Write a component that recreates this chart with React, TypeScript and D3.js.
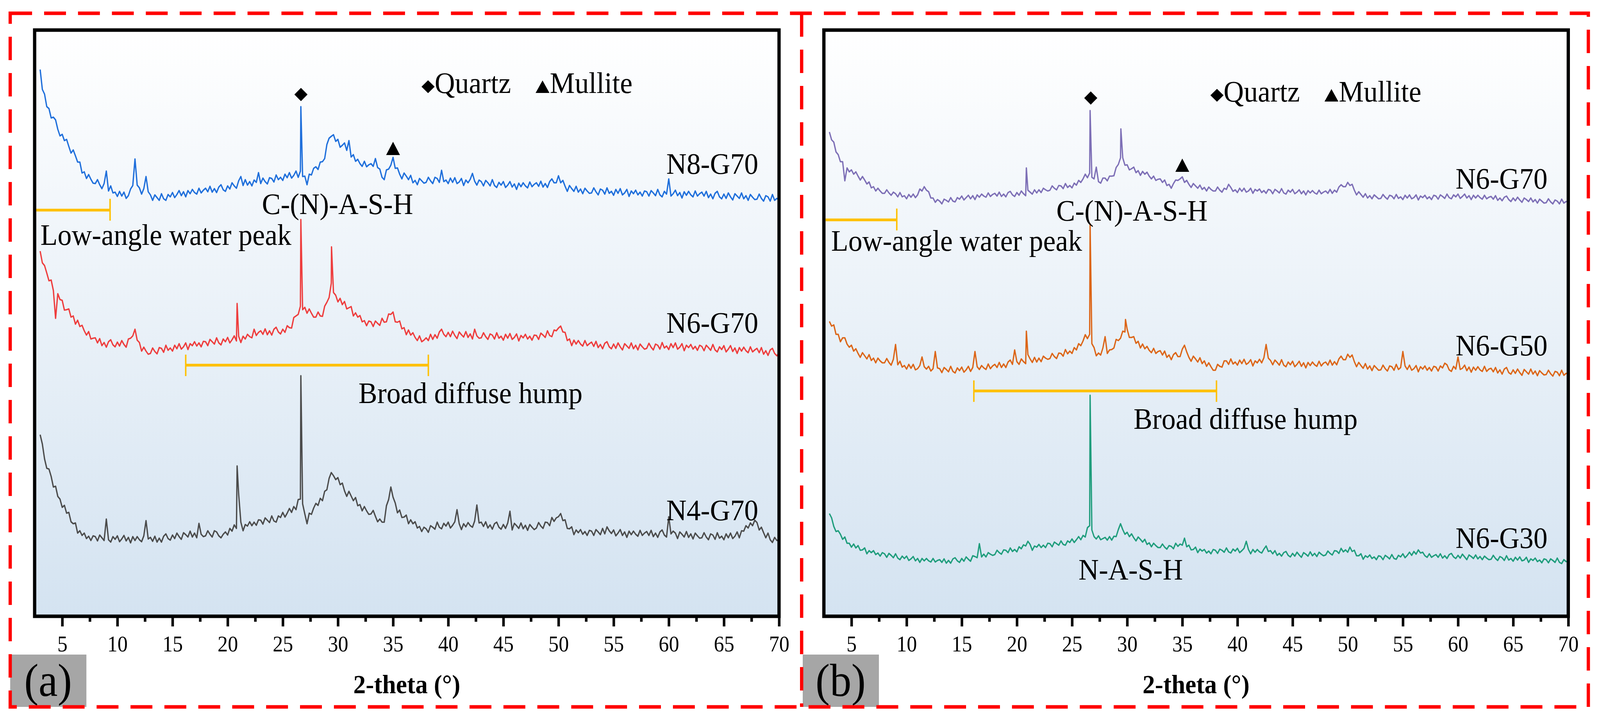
import { useEffect, useRef } from "react";
import * as d3 from "d3";

// ---- data -----------------------------------------------------------------

// 2-theta grid of the digitised scans (degrees): 3.0, 3.2, ... 70.0
const THETA_START = 3;
const THETA_STEP = 0.2;
const THETA_DOMAIN: [number, number] = [2.5, 70];
const MAJOR_TICKS = [5, 10, 15, 20, 25, 30, 35, 40, 45, 50, 55, 60, 65, 70];
const MINOR_TICKS = [7.5, 12.5, 17.5, 22.5, 27.5, 32.5, 37.5, 42.5, 47.5, 52.5, 57.5, 62.5, 67.5];

// intensity (a.u.) above each trace's own baseline, one value per grid step (5° per row)
const N8_G70 = [
  332, 281, 269, 237, 232, 208, 210, 203, 179, 162, 166, 150, 153, 135, 118, 126, 111, 95, 95, 67, 70, 53, 63, 51, 41,
  40, 50, 37, 27, 40, 72, 21, 34, 16, 18, 7, 20, 8, 18, 2, 9, 26, 35, 103, 36, 29, 13, 27, 58, 19,
  11, -3, 11, 4, -3, 14, 1, -3, 12, 6, 17, 4, 12, 22, 9, 19, 6, 22, 14, 25, 17, 13, 28, 16, 23,
  28, 19, 33, 18, 27, 17, 31, 37, 24, 20, 34, 26, 42, 34, 28, 47, 58, 35, 50, 36, 45, 34, 49, 43, 68,
  40, 54, 45, 39, 55, 53, 44, 62, 50, 56, 48, 64, 55, 68, 54, 61, 72, 56, 72, 58, 59, 37, 64, 62, 79,
  83, 76, 95, 96, 104, 140, 156, 161, 165, 148, 153, 133, 138, 144, 125, 150, 108, 114, 97, 102, 91, 84, 97, 83, 88,
  91, 84, 104, 81, 77, 56, 50, 75, 77, 87, 107, 79, 80, 64, 52, 67, 59, 50, 61, 42, 48, 37, 53, 47, 41,
  43, 56, 47, 40, 56, 53, 43, 74, 45, 49, 40, 54, 43, 55, 40, 44, 53, 35, 49, 42, 51, 66, 46, 36, 49,
  45, 34, 48, 42, 34, 50, 35, 30, 43, 36, 45, 30, 36, 45, 31, 39, 25, 41, 32, 42, 34, 29, 44, 32, 38,
  42, 33, 46, 31, 40, 30, 45, 52, 42, 42, 60, 42, 48, 33, 20, 35, 27, 20, 33, 18, 26, 14, 28, 21, 15,
  16, 29, 19, 11, 26, 23, 13, 29, 15, 20, 10, 25, 15, 27, 11, 16, 25, 7, 21, 14, 23, 11, 18, 8, 21,
  19, 8, 22, 16, 9, 25, 11, 6, 20, 13, 52, 8, 14, 23, 9, 17, 3, 19, 10, 20, 11, 6, 21, 8, 14,
  18, 8, 20, 4, 13, 1, 15, 20, 6, 1, 13, 2, 16, 6, -2, 14, 8, 2, 16, 1, 9, -3, 12, 5, -1,
  0, 13, 2, -5, 9, 6, -5, 12, -3, 2, -2,
];

const N6_G70_A = [
  262, 232, 225, 206, 186, 188, 161, 90, 153, 138, 136, 111, 112, 114, 93, 96, 75, 85, 69, 72, 58, 47, 56, 37, 39,
  40, 27, 38, 20, 28, 16, 30, 35, 22, 17, 29, 19, 33, 23, 16, 37, 39, 45, 62, 34, 28, 6, 16, 6, -2,
  0, 14, 5, -1, 15, 13, 3, 21, 8, 14, 6, 21, 12, 25, 11, 17, 27, 10, 25, 20, 30, 19, 27, 17, 31,
  30, 20, 36, 30, 24, 40, 27, 22, 37, 30, 41, 27, 35, 45, 32, 44, 28, 44, 37, 49, 43, 40, 62, 46, 54,
  58, 49, 63, 48, 58, 47, 62, 67, 55, 50, 62, 54, 71, 66, 65, 92, 96, 100, 121, 112, 118, 103, 114, 103, 93,
  93, 106, 96, 95, 121, 131, 143, 180, 156, 149, 132, 141, 125, 133, 114, 117, 120, 96, 104, 93, 97, 81, 84, 71, 83,
  81, 69, 83, 77, 72, 90, 80, 81, 101, 100, 106, 81, 80, 83, 63, 66, 48, 60, 47, 53, 41, 33, 45, 30, 34,
  40, 33, 49, 36, 48, 39, 55, 62, 49, 43, 54, 43, 57, 46, 38, 55, 48, 42, 56, 41, 50, 37, 62, 45, 39,
  40, 53, 43, 36, 50, 47, 37, 53, 39, 44, 34, 49, 39, 51, 36, 41, 50, 32, 46, 40, 49, 37, 44, 34, 47,
  46, 36, 52, 47, 41, 58, 46, 43, 60, 58, 65, 70, 55, 54, 33, 37, 20, 34, 24, 33, 24, 19, 33, 20, 25,
  29, 18, 31, 15, 23, 12, 26, 30, 17, 12, 24, 13, 27, 17, 9, 25, 19, 13, 27, 12, 21, 9, 24, 17, 11,
  13, 26, 16, 9, 24, 21, 11, 28, 14, 19, 10, 25, 15, 27, 11, 16, 25, 7, 21, 15, 23, 11, 18, 8, 21,
  18, 7, 21, 15, 8, 23, 9, 4, 17, 10, 20, 4, 11, 20, 5, 14, 0, 15, 6, 16, 7, 2, 17, 4, 9,
  13, 2, 15, -2, 7, -5, 9, 13, 0, -6, 2,
];

const N4_G70 = [
  272, 248, 210, 186, 184, 165, 138, 140, 114, 107, 86, 91, 71, 73, 49, 44, 46, 20, 26, 14, 20, 6, 12, 1, 13,
  11, 0, 15, 8, 1, 56, 3, -3, 11, 4, 13, -2, 5, 14, 0, 9, -5, 11, 1, 11, 3, -2, 13, 52, 5,
  9, -1, 12, -3, 7, -3, 12, 18, 6, 2, 15, 6, 20, 11, 4, 21, 16, 10, 25, 10, 20, 8, 45, 17, 11,
  13, 26, 17, 10, 26, 23, 13, 8, 17, 23, 15, 32, 25, 41, 32, 120, 48, 26, 42, 38, 49, 39, 48, 40, 54,
  53, 43, 59, 53, 47, 64, 51, 48, 64, 60, 73, 61, 71, 83, 73, 88, 80, 106, 107, 95, 69, 44, 71, 68, 84,
  96, 91, 109, 103, 127, 131, 160, 175, 167, 157, 162, 144, 148, 128, 114, 127, 115, 103, 111, 90, 93, 77, 88, 77, 68,
  69, 78, 63, 49, 56, 48, 48, 90, 106, 138, 112, 97, 72, 79, 60, 61, 66, 44, 54, 44, 49, 33, 37, 24, 35,
  31, 22, 39, 35, 30, 48, 35, 31, 45, 38, 48, 33, 40, 49, 80, 44, 29, 44, 36, 47, 39, 35, 51, 92, 46,
  48, 37, 49, 33, 41, 30, 44, 48, 35, 30, 42, 32, 46, 76, 28, 45, 39, 32, 46, 31, 40, 27, 42, 35, 29,
  33, 47, 38, 32, 48, 47, 39, 60, 50, 59, 62, 70, 52, 54, 32, 31, 36, 16, 28, 21, 29, 17, 24, 14, 27,
  25, 14, 29, 23, 16, 32, 18, 36, 26, 19, 28, 13, 20, 29, 14, 23, 9, 25, 16, 25, 17, 12, 27, 14, 20,
  24, 14, 27, 11, 20, 9, 23, 28, 15, 10, 62, 18, 25, 20, 6, 23, 17, 10, 24, 9, 18, 5, 20, 13, 7,
  8, 21, 10, 3, 18, 15, 4, 21, 7, 12, 3, 18, 8, 20, 6, 12, 23, 8, 26, 25, 39, 33, 46, 39, 53,
  47, 28, 35, 21, 8, 20, 3, -4, 9, 1, 4,
];

const N6_G70_B = [
  180, 160, 154, 129, 122, 104, 104, 55, 88, 78, 83, 72, 78, 67, 57, 66, 57, 47, 52, 37, 40, 29, 36, 29, 23,
  23, 32, 24, 18, 26, 22, 14, 25, 14, 17, 9, 20, 13, 21, 12, 19, 34, 29, 40, 31, 27, 11, 11, 0, 7,
  3, -4, 8, 5, 1, 12, 3, 1, 12, 8, 16, 6, 12, 18, 9, 17, 7, 19, 13, 21, 16, 13, 24, 15, 20,
  23, 16, 26, 15, 21, 14, 25, 28, 19, 15, 25, 18, 29, 22, 17, 31, 26, 21, 32, 24, 32, 25, 36, 32, 29,
  31, 42, 36, 32, 43, 42, 35, 48, 38, 43, 37, 49, 44, 56, 51, 60, 72, 63, 75, 64, 60, 90, 53, 49, 62,
  62, 55, 67, 67, 68, 89, 97, 114, 114, 95, 96, 83, 86, 90, 76, 81, 69, 79, 72, 77, 67, 60, 67, 56, 59,
  60, 51, 57, 43, 46, 36, 48, 57, 56, 60, 65, 51, 56, 46, 38, 48, 42, 36, 44, 33, 38, 29, 39, 33, 29,
  29, 39, 31, 26, 36, 33, 46, 38, 28, 32, 25, 36, 28, 36, 26, 29, 36, 23, 33, 29, 34, 25, 30, 23, 33,
  31, 22, 33, 29, 24, 35, 24, 21, 31, 26, 33, 22, 26, 32, 22, 29, 19, 30, 24, 30, 24, 21, 31, 22, 26,
  29, 23, 33, 23, 31, 26, 39, 45, 40, 40, 51, 43, 46, 31, 19, 27, 20, 13, 22, 11, 17, 9, 19, 14, 9,
  10, 20, 13, 8, 18, 16, 9, 20, 10, 14, 7, 18, 11, 19, 9, 12, 19, 6, 16, 12, 18, 9, 14, 7, 18,
  16, 8, 19, 15, 10, 21, 12, 9, 19, 14, 21, 10, 15, 21, 11, 17, 7, 18, 11, 18, 12, 8, 18, 9, 13,
  15, 8, 17, 5, 11, 4, 13, 16, 7, 2, 11, 4, 13, 6, 0, 11, 7, 2, 11, 1, 7, -2, 8, 3, -2,
  -1, 9, 1, -4, 6, 3, -4, 8, -2, 2, 1,
];

const N6_G50 = [
  135, 123, 126, 102, 102, 83, 93, 93, 77, 69, 74, 59, 65, 53, 43, 55, 47, 39, 50, 35, 41, 29, 41, 34, 29,
  29, 40, 30, 23, 38, 76, 24, 33, 18, 22, 13, 25, 15, 25, 11, 14, 22, 44, 19, 13, 20, 8, 14, 58, 16,
  14, 4, 17, 12, 6, 20, 7, 3, 16, 9, 18, 5, 11, 20, 7, 17, 58, 19, 12, 22, 16, 12, 26, 14, 21,
  25, 17, 30, 17, 26, 17, 31, 36, 25, 62, 32, 25, 39, 32, 27, 50, 39, 30, 43, 31, 41, 32, 46, 41, 38,
  40, 53, 45, 40, 54, 53, 46, 63, 52, 59, 53, 68, 62, 78, 73, 85, 101, 91, 102, 78, 68, 47, 54, 49, 67,
  96, 53, 62, 63, 67, 89, 86, 92, 110, 108, 115, 94, 94, 96, 79, 84, 67, 77, 65, 71, 61, 55, 66, 53, 58,
  60, 49, 59, 43, 49, 37, 50, 55, 45, 45, 64, 74, 57, 43, 33, 46, 39, 31, 42, 27, 34, 20, 29, 19, 10,
  10, 25, 20, 18, 34, 34, 25, 39, 26, 31, 23, 36, 27, 38, 25, 29, 37, 21, 34, 29, 38, 29, 42, 76, 41,
  35, 24, 36, 30, 23, 37, 23, 19, 31, 24, 33, 19, 25, 33, 20, 29, 16, 30, 22, 31, 24, 20, 33, 21, 28,
  31, 23, 36, 23, 32, 24, 39, 46, 37, 37, 51, 43, 49, 32, 19, 30, 22, 15, 27, 13, 21, 9, 22, 16, 10,
  11, 23, 14, 8, 21, 19, 10, 25, 12, 17, 58, 21, 12, 23, 10, 14, 22, 6, 19, 13, 21, 10, 17, 8, 20,
  18, 8, 21, 16, 28, 24, 11, 7, 20, 13, 44, 12, 15, 23, 9, 18, 5, 18, 10, 19, 11, 7, 20, 7, 13,
  15, 6, 17, 3, 11, 0, 13, 17, 4, 0, 11, 2, 13, 4, -3, 12, 6, 0, 13, 0, 8, -4, 9, 3, -2,
  -1, 10, 1, -5, 7, 5, -4, 10, -3, 2, 1,
];

const N6_G30 = [
  125, 114, 92, 79, 81, 72, 59, 65, 49, 49, 39, 47, 37, 43, 31, 32, 37, 22, 30, 25, 30, 20, 24, 16, 25,
  22, 13, 23, 18, 12, 22, 11, 7, 16, 10, 16, 5, 9, 15, 4, 10, 0, 10, 4, 10, 4, 1, 10, 1, 5,
  7, 0, 9, -2, 5, -2, 9, 12, 4, 0, 10, 3, 14, 8, 3, 17, 15, 12, 48, 14, 21, 14, 25, 21, 18,
  20, 31, 25, 21, 32, 31, 25, 37, 28, 33, 27, 40, 35, 45, 42, 54, 46, 31, 42, 39, 46, 38, 44, 38, 49,
  48, 40, 52, 48, 44, 55, 46, 44, 55, 51, 60, 51, 58, 66, 58, 69, 65, 89, 94, 83, 66, 60, 68, 58, 61,
  64, 57, 66, 57, 67, 66, 84, 99, 84, 72, 77, 66, 73, 63, 55, 65, 59, 52, 59, 46, 50, 40, 49, 43, 38,
  38, 47, 39, 34, 43, 41, 35, 49, 41, 47, 44, 62, 40, 44, 32, 33, 39, 25, 34, 29, 33, 24, 29, 22, 33,
  31, 23, 34, 31, 26, 37, 27, 24, 34, 29, 36, 25, 30, 36, 54, 33, 22, 33, 26, 33, 27, 24, 34, 42, 28,
  30, 22, 30, 18, 23, 16, 25, 28, 18, 14, 23, 16, 26, 19, 13, 25, 21, 16, 27, 17, 23, 15, 26, 21, 17,
  19, 29, 23, 19, 30, 29, 23, 36, 27, 32, 26, 39, 28, 31, 17, 17, 22, 8, 17, 13, 19, 10, 14, 7, 17,
  15, 7, 18, 14, 9, 20, 10, 8, 18, 14, 22, 12, 18, 26, 18, 28, 21, 32, 24, 26, 17, 13, 22, 13, 17,
  20, 13, 22, 11, 17, 10, 20, 23, 14, 10, 18, 11, 21, 14, 7, 19, 15, 10, 19, 9, 15, 7, 16, 11, 7,
  8, 18, 10, 5, 15, 12, 5, 17, 6, 10, 3, 13, 6, 14, 4, 6, 13, 0, 9, 5, 11, 2, 6, -1, 9,
  7, -1, 9, 5, 0, 11, 0, -3, 7, 2, 3,
];

// sharp reflections falling between grid points: [2-theta, intensity]
const N8_G70_PEAKS: [number, number][] = [[26.64, 237]];
const N6_G70_A_PEAKS: [number, number][] = [[20.86, 128], [26.64, 343], [29.42, 273]];
const N4_G70_PEAKS: [number, number][] = [[20.86, 192], [26.64, 423]];
const N6_G70_B_PEAKS: [number, number][] = [[20.86, 88], [26.64, 235], [29.43, 188]];
const N6_G50_PEAKS: [number, number][] = [[20.86, 110], [26.64, 385], [29.85, 140]];
const N6_G30_PEAKS: [number, number][] = [[26.64, 428]];

const NAMES_A = ["N8-G70", "N6-G70", "N4-G70"];
const NAMES_B = ["N6-G70", "N6-G50", "N6-G30"];

// vertical stacking offsets of the traces (a.u.)
const OFFSETS_A = [1068, 673, 193];
const OFFSETS_B = [1060, 620, 138];

// ---- layout ---------------------------------------------------------------

const WIDTH = 4389;
const HEIGHT = 1841;
const PLOT_TOP = 77;
const PLOT_W = 2042;
const PLOT_H = 1501;
const FONT = "'Times New Roman', 'Liberation Serif', Tinos, serif";
const BRACKET = "#ffc000";

const PANELS = [
  {
    tag: "(a)",
    left: 95,
    tagLeft: 28,
    names: NAMES_A,
    values: [N8_G70, N6_G70_A, N4_G70],
    peaks: [N8_G70_PEAKS, N6_G70_A_PEAKS, N4_G70_PEAKS],
    offsets: OFFSETS_A,
    colors: ["#1f6fdb", "#ee3d3d", "#4b4b4b"],
    labelBase: [1133, 726, 246],
    legend: { theta: 37.58, base: 1340 },
    quartz: { theta: 26.65, mid: 1336 },
    mullite: { theta: 35.0, bottom: 1181 },
    phase: { text: "C-(N)-A-S-H", theta: 23.11, base: 1030 },
    water: { from: 2.65, to: 9.34, level: 1040, textTheta: 3.03, textBase: 951 },
    hump: { from: 16.2, to: 38.2, level: 643, textTheta: 31.87, textBase: 546 },
    extra: null as null | { text: string; theta: number; base: number },
  },
  {
    tag: "(b)",
    left: 2260,
    tagLeft: 2202,
    names: NAMES_B,
    values: [N6_G70_B, N6_G50, N6_G30],
    peaks: [N6_G70_B_PEAKS, N6_G50_PEAKS, N6_G30_PEAKS],
    offsets: OFFSETS_B,
    colors: ["#7d6fb6", "#dc6517", "#1f9d7c"],
    labelBase: [1095, 668, 175],
    legend: { theta: 37.55, base: 1318 },
    quartz: { theta: 26.7, mid: 1327 },
    mullite: { theta: 35.0, bottom: 1138 },
    phase: { text: "C-(N)-A-S-H", theta: 23.58, base: 1013 },
    water: { from: 2.65, to: 9.11, level: 1015, textTheta: 3.16, textBase: 936 },
    hump: { from: 16.1, to: 38.1, level: 577, textTheta: 30.58, textBase: 480 },
    extra: { text: "N-A-S-H", theta: 25.59, base: 94 },
  },
];

const diamondPath = (w: number, h: number) =>
  `M0,${-h / 2}L${w / 2},0L0,${h / 2}L${-w / 2},0Z`;
// apex up, base on y = 0
const trianglePath = (w: number, h: number) => `M0,${-h}L${w / 2},0L${-w / 2},0Z`;

export default function App() {
  const svgRef = useRef<SVGSVGElement>(null);

  useEffect(() => {
    if (!svgRef.current) return;
    const svg = d3.select(svgRef.current);
    svg.selectAll("*").remove();

    const defs = svg.append("defs");
    const grad = defs
      .append("linearGradient")
      .attr("id", "plotBg")
      .attr("x1", 0)
      .attr("y1", 0)
      .attr("x2", 0)
      .attr("y2", 1);
    grad.append("stop").attr("offset", "0%").attr("stop-color", "#ffffff");
    grad.append("stop").attr("offset", "100%").attr("stop-color", "#d4e3f1");

    svg.append("rect").attr("width", WIDTH).attr("height", HEIGHT).attr("fill", "#ffffff");

    const x = d3.scaleLinear().domain(THETA_DOMAIN).range([0, PLOT_W]);
    const y = d3.scaleLinear().domain([0, PLOT_H]).range([PLOT_H, 0]);
    const line = d3
      .line<[number, number]>()
      .x((d) => x(d[0]))
      .y((d) => y(d[1]));

    PANELS.forEach((p) => {
      // panel tag box
      svg
        .append("rect")
        .attr("x", p.tagLeft)
        .attr("y", 1676)
        .attr("width", 209)
        .attr("height", 134)
        .attr("fill", "#a6a6a6");
      svg
        .append("text")
        .attr("x", p.tagLeft + 104)
        .attr("y", 1782)
        .attr("text-anchor", "middle")
        .attr("font-family", FONT)
        .attr("font-size", 118)
        .attr("fill", "#000")
        .text(p.tag);

      const g = svg.append("g").attr("transform", `translate(${p.left},${PLOT_TOP})`);
      g.append("rect").attr("width", PLOT_W).attr("height", PLOT_H).attr("fill", "url(#plotBg)");

      // traces
      p.values.forEach((vals, i) => {
        const off = p.offsets[i];
        const pts: [number, number][] = vals
          .map((v, k) => [THETA_START + k * THETA_STEP, v + off] as [number, number])
          .concat(p.peaks[i].map(([t, v]) => [t, v + off] as [number, number]))
          .sort((a, b) => a[0] - b[0]);
        g.append("path")
          .attr("d", line(pts))
          .attr("fill", "none")
          .attr("stroke", p.colors[i])
          .attr("stroke-width", 3.6)
          .attr("stroke-linejoin", "round");
      });

      // brackets
      const w = p.water;
      g.append("line")
        .attr("x1", x(w.from))
        .attr("x2", x(w.to))
        .attr("y1", y(w.level))
        .attr("y2", y(w.level))
        .attr("stroke", BRACKET)
        .attr("stroke-width", 7);
      g.append("line")
        .attr("x1", x(w.to))
        .attr("x2", x(w.to))
        .attr("y1", y(w.level) - 29)
        .attr("y2", y(w.level) + 27)
        .attr("stroke", BRACKET)
        .attr("stroke-width", 4);

      const h = p.hump;
      g.append("line")
        .attr("x1", x(h.from))
        .attr("x2", x(h.to))
        .attr("y1", y(h.level))
        .attr("y2", y(h.level))
        .attr("stroke", BRACKET)
        .attr("stroke-width", 7);
      [h.from, h.to].forEach((t) => {
        g.append("line")
          .attr("x1", x(t))
          .attr("x2", x(t))
          .attr("y1", y(h.level) - 27)
          .attr("y2", y(h.level) + 28)
          .attr("stroke", BRACKET)
          .attr("stroke-width", 4);
      });

      const txt = (tx: number, ty: number, s: string, anchor = "start") =>
        g
          .append("text")
          .attr("x", tx)
          .attr("y", ty)
          .attr("text-anchor", anchor)
          .attr("font-family", FONT)
          .attr("font-size", 77)
          .attr("fill", "#000")
          .text(s);

      // trace labels
      p.names.forEach((n, i) => txt(x(68.12), y(p.labelBase[i]), n, "end"));

      txt(x(p.phase.theta), y(p.phase.base), p.phase.text);
      txt(x(w.textTheta), y(w.textBase), "Low-angle water peak");
      txt(x(h.textTheta), y(h.textBase), "Broad diffuse hump");
      if (p.extra) txt(x(p.extra.theta), y(p.extra.base), p.extra.text);

      // peak markers
      g.append("path")
        .attr("transform", `translate(${x(p.quartz.theta)},${y(p.quartz.mid)})`)
        .attr("d", diamondPath(36, 34))
        .attr("fill", "#000");
      g.append("path")
        .attr("transform", `translate(${x(p.mullite.theta)},${y(p.mullite.bottom)})`)
        .attr("d", trianglePath(38, 34))
        .attr("fill", "#000");

      // legend
      const lx = x(p.legend.theta);
      const ly = y(p.legend.base);
      g.append("path")
        .attr("transform", `translate(${lx + 18},${ly - 16})`)
        .attr("d", diamondPath(36, 33))
        .attr("fill", "#000");
      txt(lx + 36, ly, "Quartz");
      g.append("path")
        .attr("transform", `translate(${lx + 332},${ly})`)
        .attr("d", trianglePath(38, 32))
        .attr("fill", "#000");
      txt(lx + 352, ly, "Mullite");

      // frame
      g.append("rect")
        .attr("width", PLOT_W)
        .attr("height", PLOT_H)
        .attr("fill", "none")
        .attr("stroke", "#000")
        .attr("stroke-width", 9);

      // x axis
      const major = g.append("g").attr("transform", `translate(0,${PLOT_H + 4})`);
      major.call(
        d3
          .axisBottom(x)
          .tickValues(MAJOR_TICKS)
          .tickSize(22)
          .tickFormat(d3.format("d") as any)
      );
      major.select(".domain").remove();
      major.selectAll(".tick line").attr("stroke", "#000").attr("stroke-width", 7);
      major
        .selectAll(".tick text")
        .attr("y", 86)
        .attr("dy", 0)
        .attr("font-family", FONT)
        .attr("font-size", 56)
        .attr("fill", "#000");

      const minor = g.append("g").attr("transform", `translate(0,${PLOT_H + 4})`);
      minor.call(d3.axisBottom(x).tickValues(MINOR_TICKS).tickSize(10).tickFormat(() => ""));
      minor.select(".domain").remove();
      minor.selectAll(".tick line").attr("stroke", "#000").attr("stroke-width", 7);

      g.append("text")
        .attr("x", PLOT_W / 2)
        .attr("y", 1775 - PLOT_TOP)
        .attr("text-anchor", "middle")
        .attr("font-family", FONT)
        .attr("font-weight", "bold")
        .attr("font-size", 68)
        .attr("fill", "#000")
        .text("2-theta (°)");
    });

    // red dashed panel borders
    svg
      .append("rect")
      .attr("x", 28)
      .attr("y", 34)
      .attr("width", 4329)
      .attr("height", 1776)
      .attr("fill", "none")
      .attr("stroke", "#ff0000")
      .attr("stroke-width", 9)
      .attr("stroke-dasharray", "60 33");
    svg
      .append("line")
      .attr("x1", 2199)
      .attr("x2", 2199)
      .attr("y1", 34)
      .attr("y2", 1810)
      .attr("stroke", "#ff0000")
      .attr("stroke-width", 9)
      .attr("stroke-dasharray", "60 33");
  }, []);

  return (
    <svg
      ref={svgRef}
      viewBox={`0 0 ${WIDTH} ${HEIGHT}`}
      preserveAspectRatio="none"
      style={{ position: "fixed", left: 0, top: 0, width: "100vw", height: "100vh", display: "block" }}
    />
  );
}
